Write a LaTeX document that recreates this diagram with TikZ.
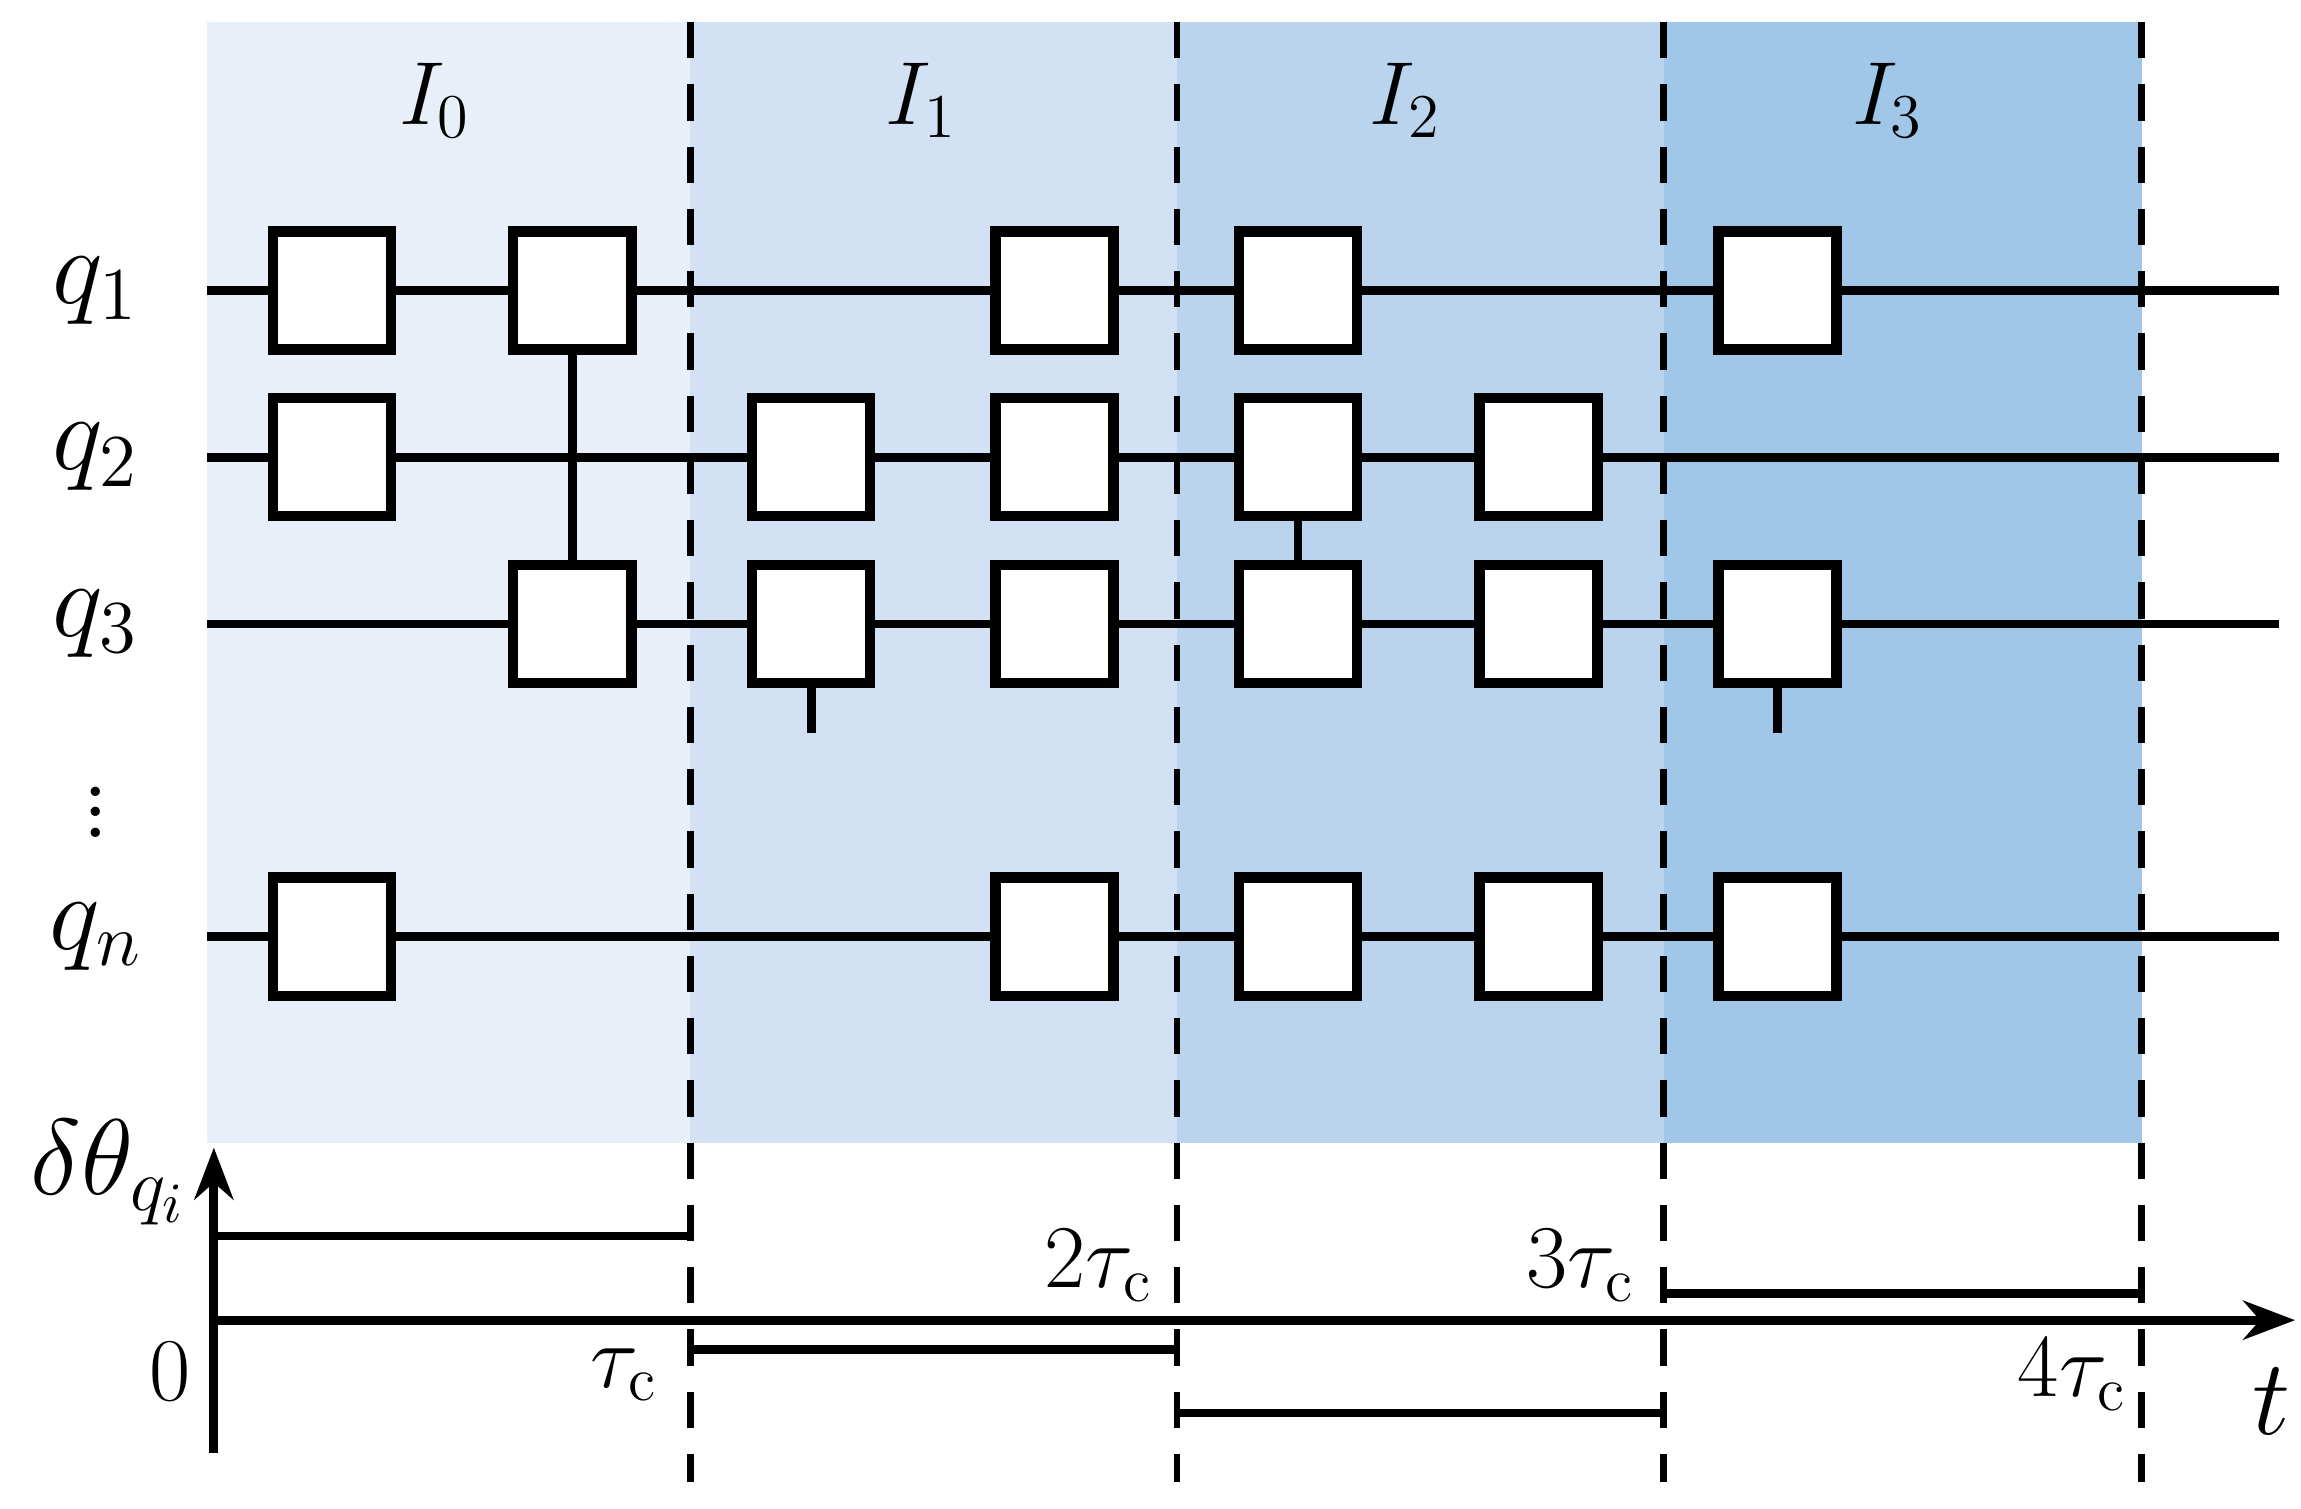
\documentclass[tikz,border=0pt]{standalone}
\usepackage{xcolor}
\definecolor{zoneA}{HTML}{E8EFF9}
\definecolor{zoneB}{HTML}{D2E2F4}
\definecolor{zoneC}{HTML}{BAD4EE}
\definecolor{zoneD}{HTML}{A0C7E8}
\usepackage{tikz}
\usetikzlibrary{arrows.meta, positioning}

\begin{document}
\begin{tikzpicture}[
    x=0.01cm, y=-0.01cm,
    wire/.style={line width=1.7pt},
    gate/.style={
        draw=black,
        line width=2pt,
        fill=white,
        rectangle,
        minimum width=0.8cm,
        minimum height=0.8cm,
        inner sep=0pt
    },
    sep/.style={line width=1.3pt, dash pattern=on 7pt off 5pt},
    qlabel/.style={font=\fontsize{22}{26}\selectfont},
    tlabel/.style={font=\fontsize{17}{20}\selectfont}
]
\useasboundingbox (0,0) rectangle (1560,1023);

% Intervals
\fill[zoneA] (140,15) rectangle (468,775);
\fill[zoneB] (468,15) rectangle (798,775);
\fill[zoneC] (798,15) rectangle (1128,775);
\fill[zoneD] (1128,15) rectangle (1452,775);
\foreach \x/\k in {295/0, 625/1, 953/2, 1280/3}
    \node[tlabel] (iv\k) at (\x,68) {$I_{\k}$};

% Qubit wires
\foreach \y/\q in {197/1, 310/2, 423/3, 635/n} {
    \node[qlabel] (lab\q) at (65,\y) {$q_{\q}$};
    \coordinate (w\q) at (140,\y);
    \coordinate (e\q) at (1545,\y);
    \draw[wire] (w\q) -- (e\q);
}
\node[qlabel, inner sep=0pt] (dots) at (65,540) {$\vdots$};

% Gates
\foreach \x/\n in {225/a, 388/b, 715/c, 880/d, 1205/e}
    \node[gate] (g1\n) at (\x,197) {};
\foreach \x/\n in {225/a, 550/b, 715/c, 880/d, 1043/e}
    \node[gate] (g2\n) at (\x,310) {};
\foreach \x/\n in {388/a, 550/b, 715/c, 880/d, 1043/e, 1205/f}
    \node[gate] (g3\n) at (\x,423) {};
\foreach \x/\n in {225/a, 715/b, 880/c, 1043/d, 1205/e}
    \node[gate] (gn\n) at (\x,635) {};

% Two-qubit couplings
\draw[wire] (g1b) -- (g3a);
\node[gate] at (g3a) {};
\node[gate] at (g1b) {};
\draw[wire] (g2d) -- (g3d);
\coordinate (s1) at (550,497);
\coordinate (s2) at (1205,497);
\draw[wire] (g3b.south) -- (s1);
\draw[wire] (g3f.south) -- (s2);

% Interval borders
\foreach \x/\k in {468/1, 798/2, 1128/3, 1452/4} {
    \coordinate (top\k) at (\x,15);
    \coordinate (bot\k) at (\x,1005);
    \draw[sep] (top\k) -- (bot\k);
}

% Phase error plot
\coordinate (o) at (145,895);
\coordinate (ylo) at (145,985);
\coordinate (yhi) at (145,778);
\coordinate (xhi) at (1556,895);
\draw[wire, -{Stealth[length=10pt]}] (ylo) -- (yhi);
\draw[wire, -{Stealth[length=10pt]}] (o) -- (xhi);
\node[qlabel] (dth) at (74,795) {$\delta\theta_{q_i}$};
\node[tlabel] (zero) at (115,930) {$0$};
\node[qlabel] (tt) at (1540,950) {$t$};
\node[tlabel] (t1) at (423,932) {$\tau_{\mathrm{c}}$};
\node[tlabel] (t2) at (745,858) {$2\tau_{\mathrm{c}}$};
\node[tlabel] (t3) at (1072,858) {$3\tau_{\mathrm{c}}$};
\node[tlabel] (t4) at (1405,932) {$4\tau_{\mathrm{c}}$};

\draw[wire] (145,838) -- (468,838);
\draw[wire] (468,915) -- (798,915);
\draw[wire] (798,958) -- (1128,958);
\draw[wire] (1128,877) -- (1452,877);

\end{tikzpicture}
\end{document}
